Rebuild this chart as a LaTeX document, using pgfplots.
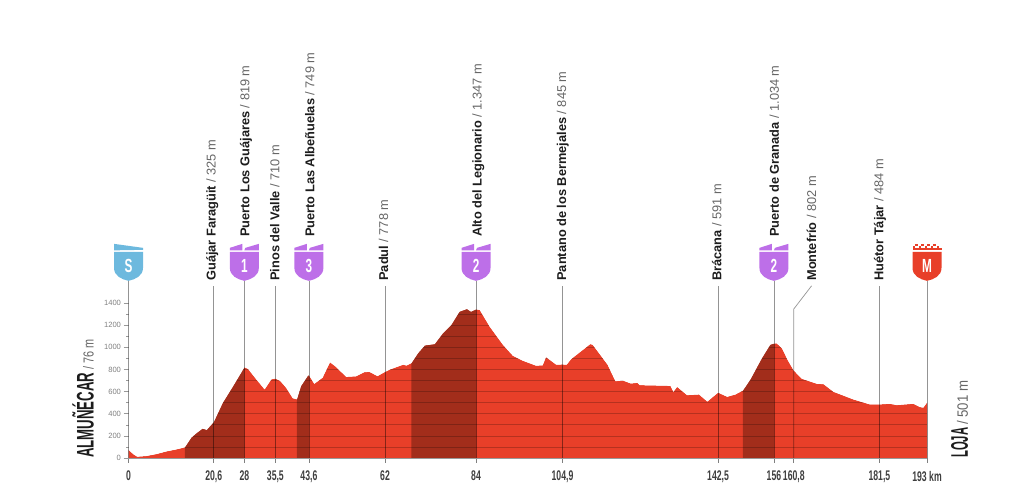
\documentclass[border=0pt]{standalone}
\usepackage{pgfplots}
\pgfplotsset{compat=1.18}
\usepackage{pgfplotstable}
\usepackage{fontspec}
\setmainfont{Liberation Sans}
\definecolor{prof}{HTML}{E83F29}
\definecolor{profd}{HTML}{A22D1B}
\definecolor{kom}{HTML}{BD6FE8}
\definecolor{startb}{HTML}{6DB9DE}
\definecolor{gtxt}{HTML}{666666}
\definecolor{btxt}{HTML}{1C1C1C}
\pgfplotstableread{
km ele
0 76
1.1 36
2.1 12
4.3 18
6.8 36
9.2 60
11.6 78
13.6 96
14.4 140
15.2 185
16.4 224
17.9 266
18.9 254
20.6 325
22.8 500
25.3 650
28 819
28.9 805
30.9 710
32.9 620
34.5 710
35.5 718
36.7 695
38.1 635
39.7 540
40.7 530
41.7 650
43.3 740
43.6 749
44.9 670
46.9 725
48.7 865
50.2 822
52.6 733
55 738
57 775
58.2 778
60.2 740
62 778
63.2 800
66.4 843
67.2 835
68.4 858
70 948
71.6 1017
74 1029
76 1128
78 1202
80 1322
81.8 1346
82.8 1322
84 1343
84.9 1337
87.3 1187
90.5 1023
92.9 924
95.3 879
98.5 834
100.1 837
100.9 912
103.4 843
104.9 845
105.9 843
107 894
111.6 1029
112.2 1023
115.8 843
117.7 694
119.5 700
121.4 673
123 679
123.6 658
131 652
131.7 598
132.6 643
135 568
137.9 574
139.9 510
142.5 591
144.7 553
146.7 574
148.5 610
150.3 709
153.1 903
155.1 1023
156 1034
156.7 1035
157.9 993
159.5 873
160.8 790
162.8 715
166.4 670
168 667
170.4 598
175.2 529
179.2 484
181.5 484
184 490
185.7 478
189.7 490
191.3 460
192.1 455
193 501
}\profile
\newcommand{\sq}[1]{\scalebox{0.62}[1]{#1}}
\newcommand{\vl}[2]{\addplot[black,opacity=0.42,line width=0.7pt,forget plot] coordinates {(#1,0) (#1,#2)};}
\newcommand{\lab}[5]{\node[rotate=90,anchor=base west,inner sep=0pt,font=\fontsize{12.8}{13}\selectfont] at ([xshift=#2pt]axis cs:#1,#5) {\textbf{\textcolor{btxt}{#3}}~\textcolor{gtxt}{/~#4}};}
\newcommand{\shieldbody}[1]{\fill[#1] (-14.5pt,29pt) -- (-14.5pt,13pt) .. controls (-14.5pt,5pt) and (-7pt,1.5pt) .. (0pt,0pt) .. controls (7pt,1.5pt) and (14.5pt,5pt) .. (14.5pt,13pt) -- (14.5pt,29pt) -- cycle;}
\newcommand{\letter}[1]{\node[text=white,font=\bfseries\fontsize{19}{19}\selectfont,inner sep=0pt] at (0pt,14.5pt) {\sq{#1}};}
\newcommand{\kom}[2]{\begin{scope}[shift={(axis cs:#1,1600)}]
\shieldbody{kom}
\fill[kom] (-14.5pt,30.5pt) -- (-14.5pt,33pt) -- (-2pt,37pt) -- (-2pt,30.5pt) -- cycle;
\fill[kom] (0pt,30.5pt) -- (1pt,33pt) -- (14.5pt,37pt) -- (14.5pt,30.5pt) -- cycle;
\letter{#2}
\end{scope}}
\newcommand{\chk}[2]{\fill[prof] (#1pt,#2pt) rectangle +(2.8pt,2.4pt);}
\begin{document}
\begin{tikzpicture}[x=1pt,y=1pt]
\useasboundingbox (0,0) rectangle (1024,502);
\begin{axis}[
  at={(128.5pt,44pt)}, anchor=south west,
  scale only axis, width=798.5pt, height=155pt,
  xmin=0, xmax=193, ymin=0, ymax=1400, clip=false,
  axis x line=bottom, axis y line=left,
  x axis line style={-,gray!80,line width=0.7pt},
  y axis line style={draw=none},
  xtick={0,20.6,28,35.5,43.6,62,84,104.9,142.5,156,160.8,181.5,193},
  xticklabels={\sq{0},\sq{20,6},\sq{28},\sq{35,5},\sq{43,6},\sq{62},\sq{84},\sq{104,9},\sq{142,5},\sq{156},\sq{160,8},\sq{181,5},\sq{193 km}},
  x tick label style={font=\bfseries\fontsize{14}{14}\selectfont,text=btxt!85,yshift=-4.5pt},
  x tick style={gray,line width=0.6pt},
  tick align=outside, major tick length=5pt, minor tick length=2.5pt,
  ytick={0,200,...,1400}, minor y tick num=1,
  y tick style={gray!80,line width=0.5pt},
  y tick label style={font=\fontsize{7.6}{8}\selectfont,text=gray,xshift=1pt},
  /pgf/number format/assume math mode=true,
  /pgf/number format/1000 sep={},
]
\addplot[fill=prof,draw=none,forget plot] table[x=km,y=ele] {\profile} \closedcycle;
\addplot[fill=profd,draw=none,forget plot,restrict x to domain=13.6:28] table[x=km,y=ele] {\profile} \closedcycle;
\addplot[fill=profd,draw=none,forget plot,restrict x to domain=40.7:43.6] table[x=km,y=ele] {\profile} \closedcycle;
\addplot[fill=profd,draw=none,forget plot,restrict x to domain=68.4:84] table[x=km,y=ele] {\profile} \closedcycle;
\addplot[fill=profd,draw=none,forget plot,restrict x to domain=148.5:156] table[x=km,y=ele] {\profile} \closedcycle;
\addplot[black,opacity=0.22,line width=0.6pt,unbounded coords=jump,forget plot] coordinates {
(0,100)(193,100) (nan,nan) (0,200)(193,200) (nan,nan) (0,300)(193,300) (nan,nan)
(0,400)(193,400) (nan,nan) (0,500)(193,500) (nan,nan) (0,600)(193,600) (nan,nan)
(0,700)(193,700) (nan,nan) (0,800)(193,800) (nan,nan) (0,900)(193,900) (nan,nan)
(0,1000)(193,1000) (nan,nan) (0,1100)(193,1100) (nan,nan) (0,1200)(193,1200) (nan,nan)
(0,1300)(193,1300)};
\addplot[fill=white,draw=none,forget plot] table[x=km,y=ele] {\profile} -- (axis cs:193,1420) -- (axis cs:0,1420) -- cycle;
\vl{0}{1600}\vl{28}{1600}\vl{43.6}{1600}\vl{84}{1600}\vl{156}{1600}\vl{193}{1600}
\vl{20.6}{1555}\vl{35.5}{1555}\vl{62}{1555}\vl{104.9}{1555}\vl{142.5}{1555}\vl{181.5}{1555}
\addplot[black,opacity=0.42,line width=0.7pt,forget plot] coordinates {(160.8,0) (160.8,1346) (165.1,1555)};
\lab{20.6}{2}{Guájar Faragüit}{325 m}{1600}
\lab{28}{5}{Puerto Los Guájares}{819 m}{1996}
\lab{35.5}{4}{Pinos del Valle}{710 m}{1600}
\lab{43.6}{5.5}{Puerto Las Albeñuelas}{749 m}{1996}
\lab{62}{3}{Padul}{778 m}{1600}
\lab{84}{5.5}{Alto del Legionario}{1.347 m}{1996}
\lab{104.9}{3.7}{Pantano de los Bermejales}{845 m}{1600}
\lab{142.5}{3.3}{Brácana}{591 m}{1600}
\lab{156}{5}{Puerto de Granada}{1.034 m}{1996}
\lab{166.2}{0}{Montefrío}{802 m}{1600}
\lab{181.5}{4}{Huétor Tájar}{484 m}{1600}
\kom{28}{1}\kom{43.6}{3}\kom{84}{2}\kom{156}{2}
\begin{scope}[shift={(axis cs:0,1600)}]
\shieldbody{startb}
\fill[startb] (-14.5pt,30.5pt) -- (14.5pt,31pt) -- (14.5pt,33pt) -- (-14.5pt,37pt) -- cycle;
\letter{S}
\end{scope}
\begin{scope}[shift={(axis cs:193,1600)}]
\shieldbody{prof}
\chk{-14.5}{32.5}\chk{-8.5}{32.5}\chk{-2.5}{32.5}\chk{3.5}{32.5}\chk{9.5}{32.5}
\chk{-11.6}{34.9}\chk{-5.6}{34.9}\chk{0.4}{34.9}\chk{6.4}{34.9}
\fill[prof] (-14.5pt,30.5pt) rectangle (14.5pt,32.5pt);
\letter{M}
\end{scope}
\node[rotate=90,anchor=base west,inner sep=0pt,text=btxt] at (axis cs:-8.4,0) {\scalebox{0.55}[1]{\bfseries\fontsize{24}{24}\selectfont ALMUÑÉCAR}\hspace{3pt}\textcolor{gtxt}{\scalebox{0.75}[1]{\fontsize{14.5}{14.5}\selectfont /~76~m}}};
\node[rotate=90,anchor=base west,inner sep=0pt,text=btxt] at (axis cs:202.9,0) {\scalebox{0.47}[1]{\bfseries\fontsize{24}{24}\selectfont LOJA}\hspace{3pt}\textcolor{gtxt}{\scalebox{0.88}[1]{\fontsize{15}{15}\selectfont /~501~m}}};
\end{axis}
\end{tikzpicture}
\end{document}
